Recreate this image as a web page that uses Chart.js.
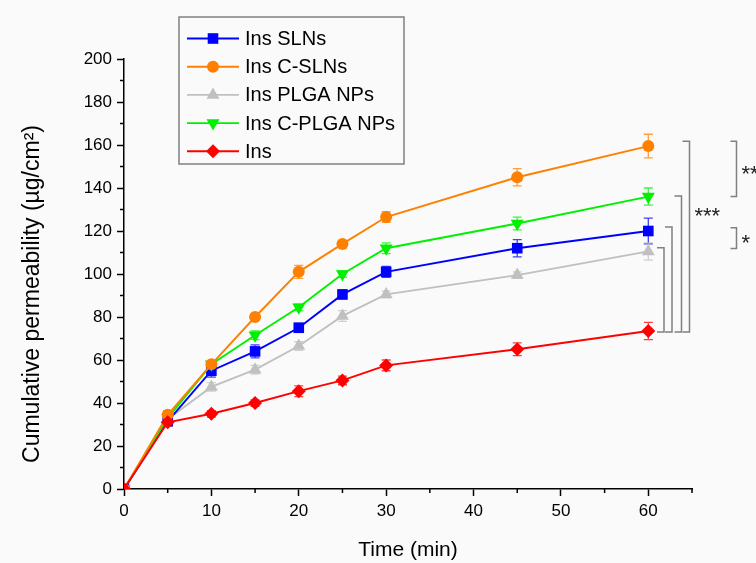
<!DOCTYPE html>
<html>
<head>
<meta charset="utf-8">
<script src="https://cdn.jsdelivr.net/npm/chart.js@4.4.1/dist/chart.umd.min.js"></script>
<style>
  html, body { margin: 0; padding: 0; background: #fafafa; }
  canvas { display: block; }
</style>
</head>
<body>
<canvas id="chart" width="756" height="563"></canvas>
<script>
const times = [0, 5, 10, 15, 20, 25, 30, 45, 60]
const xTicks = [0, 10, 20, 30, 40, 50, 60]
const yTicks = [0, 20, 40, 60, 80, 100, 120, 140, 160, 180, 200]

const labels = ['Ins SLNs', 'Ins C-SLNs', 'Ins PLGA NPs', 'Ins C-PLGA NPs', 'Ins']
const slns = [0, 31.5, 55, 64, 75, 90.5, 101, 112, 120]
const cSlns = [0, 34.5, 58, 80, 101, 114, 126.5, 145, 159.5]
const plga = [0, 32.5, 47.5, 55.5, 66.5, 80.5, 90.5, 99.5, 110.5]
const cPlga = [0, 33, 58, 71.5, 84.5, 100, 112, 123.5, 136]
const ins = [0, 31, 35, 40, 45.5, 50.5, 57.5, 65, 73.5]

const slnsErr = [0, 1.5, 3, 3, 2, 2, 2.5, 4, 6]
const cSlnsErr = [0, 2, 1.5, 1.5, 3, 1.5, 2.5, 4, 5.5]
const plgaErr = [0, 1, 2, 2, 2, 2.5, 1.5, 1.5, 4]
const cPlgaErr = [0, 1, 1.5, 2, 1.5, 1.5, 2.5, 3, 4]
const insErr = [0, 1.5, 1.5, 1.5, 2.5, 2, 2.5, 3, 4]

// significance brackets: [low, high, label]
const brackets = [
  [73, 112.2, ''],
  [73, 121.9, ''],
  [73, 136.3, ''],
  [73, 161.7, '***'],
]
const sideBrackets = [
  [136, 161.7, '**'],
  [111.9, 121.5, '*'],
]

const FONT = 'Arial, "Liberation Sans", sans-serif'
const colors = ['#0000ff', '#ff8000', '#c0c0c0', '#00f000', '#ff0000']
const styles = [
  { pointStyle: 'rect', rotation: 0, radius: 7.5 },
  { pointStyle: 'circle', rotation: 0, radius: 6 },
  { pointStyle: 'triangle', rotation: 0, radius: 7.5 },
  { pointStyle: 'triangle', rotation: 180, radius: 7.5 },
  { pointStyle: 'rectRot', rotation: 0, radius: 7 },
]
const series = [slns, cSlns, plga, cPlga, ins]
const errors = [slnsErr, cSlnsErr, plgaErr, cPlgaErr, insErr]
const orders = [3, 1, 4, 2, 0]

const datasets = series.map((vals, i) => ({
  label: labels[i],
  data: vals.map((v, j) => ({ x: times[j], y: v })),
  err: errors[i],
  borderColor: colors[i],
  backgroundColor: colors[i],
  borderWidth: 1.9,
  pointStyle: styles[i].pointStyle,
  rotation: styles[i].rotation,
  pointRadius: styles[i].radius,
  pointBorderWidth: 0,
  order: orders[i],
  tension: 0,
}))

const errorBars = {
  id: 'errorBars',
  beforeDatasetsDraw(chart) {
    const { ctx, scales: { x, y } } = chart
    ctx.save()
    chart.data.datasets.forEach(ds => {
      ctx.strokeStyle = ds.borderColor
      ctx.globalAlpha = 0.75
      ctx.lineWidth = 1.3
      ds.data.forEach((p, j) => {
        const e = ds.err[j]
        if (!e) return
        const px = x.getPixelForValue(p.x)
        const top = y.getPixelForValue(p.y + e)
        const bot = y.getPixelForValue(p.y - e)
        ctx.beginPath()
        ctx.moveTo(px, top); ctx.lineTo(px, bot)
        ctx.moveTo(px - 4.5, top); ctx.lineTo(px + 4.5, top)
        ctx.moveTo(px - 4.5, bot); ctx.lineTo(px + 4.5, bot)
        ctx.stroke()
      })
    })
    ctx.restore()
  }
}

const extras = {
  id: 'extras',
  afterDraw(chart) {
    const { ctx, scales: { x, y } } = chart
    ctx.save()
    // minor ticks
    ctx.strokeStyle = '#000'
    ctx.lineWidth = 1.5
    const x0 = x.getPixelForValue(0) , y0 = y.getPixelForValue(0)
    ctx.beginPath()
    for (let v = 5; v <= 65; v += 10) {
      const px = x.getPixelForValue(v)
      ctx.moveTo(px, y0); ctx.lineTo(px, y0 + 4)
    }
    for (let v = 10; v <= 190; v += 20) {
      const py = y.getPixelForValue(v)
      ctx.moveTo(x0, py); ctx.lineTo(x0 - 4, py)
    }
    ctx.stroke()

    // y title
    ctx.fillStyle = '#000'
    ctx.save()
    ctx.translate(33, 294)
    ctx.rotate(-Math.PI / 2)
    ctx.font = '23px ' + FONT
    ctx.textAlign = 'center'
    ctx.textBaseline = 'middle'
    ctx.fillText('Cumulative permeability (\u00b5g/cm\u00b2)', 0, 0)
    ctx.restore()

    // brackets
    ctx.strokeStyle = '#808080'
    ctx.lineWidth = 1.5
    const bx = [664, 672, 681.5, 689.5]
    brackets.forEach((b, i) => {
      const lo = y.getPixelForValue(b[0]), hi = y.getPixelForValue(b[1])
      ctx.beginPath()
      ctx.moveTo(bx[i] - 7, hi); ctx.lineTo(bx[i], hi); ctx.lineTo(bx[i], lo); ctx.lineTo(bx[i] - 7, lo)
      ctx.stroke()
      if (b[2]) {
        ctx.fillStyle = '#222'
        ctx.font = '22px ' + FONT
        ctx.textAlign = 'left'
        ctx.textBaseline = 'middle'
        ctx.fillText(b[2], bx[i] + 5, y.getPixelForValue(129) + 5)
      }
    })
    sideBrackets.forEach(b => {
      const lo = y.getPixelForValue(b[0]), hi = y.getPixelForValue(b[1])
      const sx = 736.5
      ctx.beginPath()
      ctx.moveTo(sx - 6, hi); ctx.lineTo(sx, hi); ctx.lineTo(sx, lo); ctx.lineTo(sx - 6, lo)
      ctx.stroke()
      ctx.fillStyle = '#222'
      ctx.font = '22px ' + FONT
      ctx.textAlign = 'left'
      ctx.textBaseline = 'middle'
      ctx.fillText(b[2], sx + 5, (lo + hi) / 2 + 6)
    })

    // legend
    ctx.strokeStyle = '#808080'
    ctx.lineWidth = 1.5
    ctx.fillStyle = '#fafafa'
    ctx.fillRect(179, 17, 225, 147)
    ctx.strokeRect(179, 17, 225, 147)
    chart.data.datasets.forEach((ds, i) => {
      const ly = 38.5 + i * 28.2
      ctx.strokeStyle = ds.borderColor
      ctx.lineWidth = 1.9
      ctx.beginPath()
      ctx.moveTo(187, ly); ctx.lineTo(239, ly)
      ctx.stroke()
      ctx.fillStyle = ds.backgroundColor
      Chart.helpers.drawPoint(ctx, {
        pointStyle: ds.pointStyle, rotation: ds.rotation, radius: ds.pointRadius, borderWidth: 0
      }, 213, ly)
      ctx.fillStyle = '#000'
      ctx.font = '20px ' + FONT
      ctx.textAlign = 'left'
      ctx.textBaseline = 'middle'
      ctx.fillText(ds.label, 245, ly + 1)
    })
    ctx.restore()
  }
}

new Chart(document.getElementById('chart'), {
  type: 'line',
  data: { datasets },
  plugins: [errorBars, extras],
  options: {
    responsive: false,
    animation: false,
    layout: { padding: { top: 59, right: 64, left: 0, bottom: 0 } },
    plugins: { legend: { display: false }, tooltip: { enabled: false } },
    scales: {
      x: {
        type: 'linear',
        min: 0, max: 65,
        afterBuildTicks: s => { s.ticks = xTicks.map(v => ({ value: v })) },
        afterFit: s => { s.height = 74 },
        grid: { display: true, drawOnChartArea: false, drawTicks: true, tickLength: 7, tickColor: '#000', tickWidth: 1.5 },
        border: { display: true, color: '#000', width: 1.5 },
        ticks: { color: '#000', padding: 5, maxRotation: 0, font: { size: 17, family: FONT } },
        title: { display: true, text: 'Time (min)', color: '#000', padding: { top: 4, bottom: 0 }, font: { size: 21, family: FONT } },
      },
      y: {
        min: 0, max: 200,
        afterBuildTicks: s => { s.ticks = yTicks.map(v => ({ value: v })) },
        afterFit: s => { s.width = 124 },
        grid: { display: true, drawOnChartArea: false, drawTicks: true, tickLength: 7, tickColor: '#000', tickWidth: 1.5 },
        border: { display: true, color: '#000', width: 1.5 },
        ticks: { color: '#000', padding: 5, font: { size: 17, family: FONT } },
      },
    },
  },
})
</script>
</body>
</html>
